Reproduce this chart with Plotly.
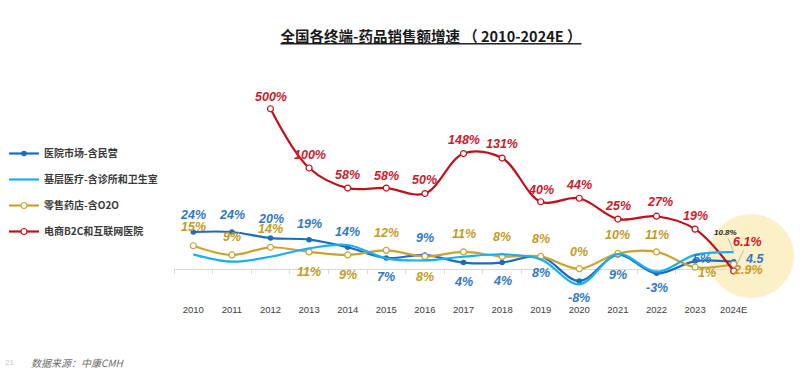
import math
import plotly.graph_objects as go

# ---------------- data ----------------
years = ["2010", "2011", "2012", "2013", "2014", "2015", "2016", "2017",
         "2018", "2019", "2020", "2021", "2022", "2023", "2024E"]
hospital = [24, 24, 20, 19, 14, 7, 9, 4, 4, 8, -8, 9, -3, 5, 4.5]          # 医院市场-含民营
primary = [9.4, 4.6, 7.8, 13.3, 15.5, 6.8, 5.4, 7.8, 9.4, 6.1, -10.2, 9.6, -2.0, 9.0, 10.8]  # 基层医疗
retail = [15, 9, 14, 11, 9, 12, 8, 11, 8, 8, 0, 10, 11, 1, 2.9]              # 零售药店-含O2O
ecommerce = [None, None, 500, 100, 58, 58, 50, 148, 131, 40, 44, 25, 27, 19, 6.1]  # 电商B2C和互联网医院

names = ["医院市场-含民营", "基层医疗-含诊所和卫生室", "零售药店-含O2O", "电商B2C和互联网医院"]
title_text = "全国各终端-药品销售额增速 （ 2010-2024E ）"
source_text = "数据来源：中康CMH"
page_no = "21"

# ---------------- styles ----------------
C_BLUE = "#1A6BC2"
C_BLUE_T = "#2F78C8"
C_CYAN = "#1AB0EE"
C_GOLD = "#C9A230"
C_GOLD_T = "#C49B22"
C_RED = "#C0101A"
C_RED_T = "#C8202B"

# label offsets in pixels (dx right, dy down) relative to each point
hosp_dx = [0] * 13 + [7, 21]
hosp_dy = [-17, -17, -19, -16, -15, 19, -17, 19, 18, 17, 17, 20, 15, -2, -3]
retail_dx = [0] * 13 + [12, 14]
retail_dy = [-19, -18, -18, 20, 20, -17, 21, -18, -19, -17, -17, -18, -17, 6, 6]
ecom_dx = [0, 0, 0, 1, 0, 0, 0, 0, 0, 0, 0, 0, 3, 0, 14]
ecom_dy = [0, 0, -12, -13, -13, -12, -14, -14, -14, -12, -13, -13, -14, -13, -29]

LBL_FONT = "Liberation Sans, Arial, sans-serif"
CJK_FONT = "Noto Sans CJK SC, sans-serif"

# plot geometry (plot area: x 174..753 px, y 60..302 px)
Y1_RANGE = [-21.76, 136.4]
Y2_RANGE = [0.4198, 3.2736]   # log10 units for the e-commerce axis

fig = go.Figure()

fig.add_trace(go.Scatter(
    x=years, y=hospital, name=names[0], mode="lines+markers",
    line=dict(color=C_BLUE, width=2.2, shape="spline", smoothing=1.0),
    marker=dict(size=5.5, color=C_BLUE), legendgroup="a", xaxis="x", yaxis="y"))
fig.add_trace(go.Scatter(
    x=years, y=primary, name=names[1], mode="lines",
    line=dict(color=C_CYAN, width=2.2, shape="spline", smoothing=1.0),
    legendgroup="b", xaxis="x2", yaxis="y"))
fig.add_trace(go.Scatter(
    x=years, y=retail, name=names[2], mode="lines+markers",
    line=dict(color=C_GOLD, width=2.2, shape="spline", smoothing=1.0),
    marker=dict(size=6, color="white", line=dict(color=C_GOLD, width=1.2)),
    legendgroup="c", xaxis="x", yaxis="y"))
fig.add_trace(go.Scatter(
    x=years, y=ecommerce, name=names[3], mode="lines+markers",
    line=dict(color=C_RED, width=2.2, shape="spline", smoothing=1.0),
    marker=dict(size=6, color="white", line=dict(color=C_RED, width=1.2)),
    legendgroup="d", xaxis="x", yaxis="y2"))

ann = []


def fmt(v):
    return f"{v:g}%"


def lbl(i, y, text, color, dx, dy, yref="y", size=12.5):
    # i = category index on the x axis
    ann.append(dict(x=i, y=y, xref="x", yref=yref, text=text, showarrow=False,
                    xshift=dx, yshift=-dy, xanchor="center", yanchor="middle",
                    font=dict(family=LBL_FONT, size=size, color=color,
                              weight="bold", style="italic")))


for i, v in enumerate(hospital):
    t = fmt(v) if i < len(hospital) - 1 else f"{v:g}"
    lbl(i, v, t, C_BLUE_T, hosp_dx[i], hosp_dy[i])

for i, v in enumerate(retail):
    lbl(i, v, fmt(v), C_GOLD_T, retail_dx[i], retail_dy[i])

last = len(years) - 1
for i, v in enumerate(ecommerce):
    if v is None:
        continue
    if i == last:
        ann.append(dict(x=i, y=math.log10(v), xref="x", yref="y2", text=fmt(v),
                        showarrow=True, arrowhead=0, arrowwidth=0.8, arrowcolor="#A6A6A6",
                        ax=ecom_dx[i], ay=ecom_dy[i], standoff=3,
                        font=dict(family=LBL_FONT, size=12.5, color=C_RED_T,
                                  weight="bold", style="italic")))
    else:
        lbl(i, math.log10(v), fmt(v), C_RED_T, ecom_dx[i], ecom_dy[i], yref="y2")

# small label of 基层医疗 2024E with leader line
ann.append(dict(x=last, y=primary[-1], xref="x", yref="y", text=fmt(primary[-1]),
                showarrow=True, arrowhead=0, arrowwidth=0.8, arrowcolor="#A6A6A6",
                ax=-8, ay=-20, standoff=2,
                font=dict(family=LBL_FONT, size=8, color="#262626",
                          weight="bold", style="italic")))

# footer
ann.append(dict(text=page_no, showarrow=False, xref="paper", yref="paper",
                x=(3 - 174) / 579, y=(302 - 362) / 242, xanchor="left", yanchor="middle",
                font=dict(family=LBL_FONT, size=8, color="#C8C8C8")))
ann.append(dict(text=source_text, showarrow=False, xref="paper", yref="paper",
                x=(29 - 174) / 579, y=(302 - 362) / 242, xanchor="left", yanchor="middle",
                font=dict(family=CJK_FONT, size=10, color="#6E6E6E", style="italic")))

fig.update_layout(
    width=800, height=376,
    margin=dict(l=174, r=47, t=60, b=74, autoexpand=False),
    paper_bgcolor="white", plot_bgcolor="rgba(0,0,0,0)",
    title=dict(text="<b><u>" + title_text + "</u></b>", xref="container", yref="container",
               x=431 / 800, y=1 - 37 / 376, xanchor="center", yanchor="middle",
               font=dict(family=CJK_FONT, size=14.5, color="#1A1A1A")),
    showlegend=True,
    legend=dict(xref="paper", yref="paper", x=(4 - 174) / 579, y=(302 - 139) / 242,
                xanchor="left", yanchor="top", orientation="v",
                font=dict(family=CJK_FONT, size=10, color="#3A3A3A", weight="bold"),
                tracegroupgap=7, itemwidth=30, bgcolor="rgba(0,0,0,0)"),
    xaxis=dict(type="category", categoryorder="array", categoryarray=years,
               range=[-0.5, len(years) - 0.5], showgrid=False, zeroline=False,
               showline=False, ticks="", fixedrange=True,
               tickfont=dict(family=LBL_FONT, size=9.5, color="#404040")),
    xaxis2=dict(type="category", categoryorder="array", categoryarray=years,
                range=[-0.5, len(years) - 0.5], overlaying="x", anchor="free",
                position=(0 - Y1_RANGE[0]) / (Y1_RANGE[1] - Y1_RANGE[0]),
                side="bottom", showgrid=False, zeroline=False, showline=True,
                linecolor="#D9D9D9", linewidth=1, ticks="outside", ticklen=4,
                tickcolor="#D9D9D9", tickson="boundaries", showticklabels=False,
                layer="below traces"),
    yaxis=dict(range=Y1_RANGE, visible=False, showgrid=False, zeroline=False),
    yaxis2=dict(type="log", range=Y2_RANGE, overlaying="y", visible=False,
                showgrid=False, zeroline=False),
    annotations=ann,
    shapes=[dict(type="circle", xref="paper", yref="paper",
                 xsizemode="pixel", ysizemode="pixel",
                 xanchor=(751 - 174) / 579, yanchor=(302 - 256) / 242,
                 x0=-43, x1=43, y0=-42, y1=42,
                 fillcolor="#FCF0C9", line=dict(width=0), layer="below")],
)

fig.write_html("out.html", config={"displayModeBar": False},
               post_script="document.body.style.margin='0';")
